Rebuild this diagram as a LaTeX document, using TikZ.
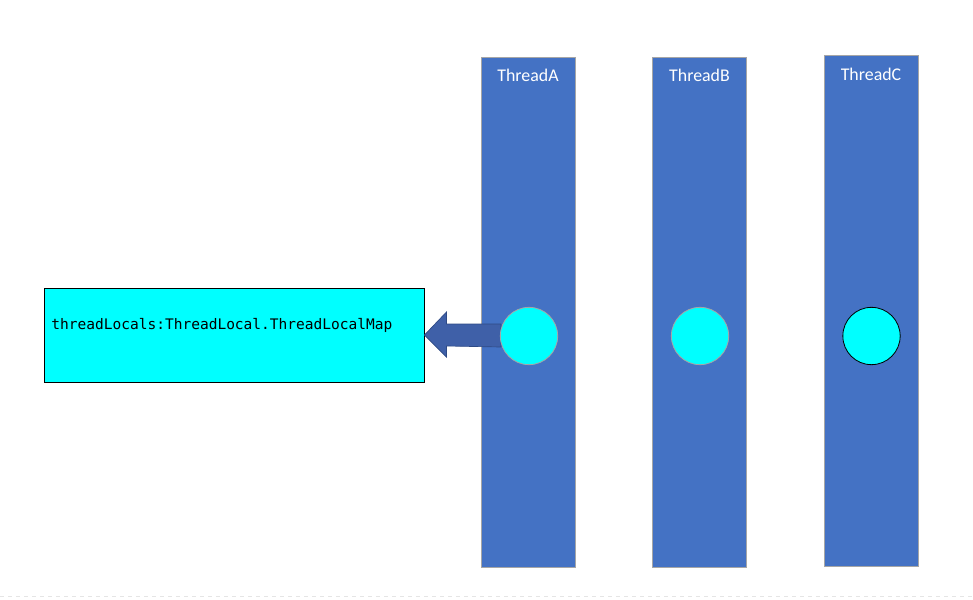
\documentclass[tikz,border=0pt]{standalone}
\usepackage{fontspec}
\setmainfont{Carlito}
\newfontfamily\monofnt{DejaVu Sans Mono}
\definecolor{barblue}{HTML}{4472C4}
\definecolor{bargray}{HTML}{A6A6A6}
\definecolor{arrowblue}{HTML}{3F60A8}
\definecolor{arrowedge}{HTML}{2E4A85}
\definecolor{cyanfill}{HTML}{00FFFF}
\begin{document}
\begin{tikzpicture}[x=0.75pt,y=-0.75pt,
  bar/.style={draw=bargray,line width=0.6pt,fill=barblue,minimum width=70.5pt,inner sep=0pt},
  barlabel/.style={text=white,font=\fontsize{13.4}{15}\selectfont,inner sep=0pt},
  dot/.style={circle,fill=cyanfill,draw=bargray,line width=0.6pt,minimum size=43pt,inner sep=0pt},
  mapbox/.style={draw=black,line width=0.7pt,fill=cyanfill,minimum width=285pt,minimum height=70.5pt,inner sep=0pt}]
\useasboundingbox (0,0) rectangle (973,599);
\draw[dashed,draw=black!10,line width=0.6pt] (0,596) -- (973,596);
% bars
\node[bar,minimum height=383pt] (ta) at (528,312.5) {};
\node[bar,minimum height=383pt] (tb) at (699.5,312.5) {};
\node[bar,minimum height=383pt] (tc) at (871,311) {};
\node[barlabel] (la) at (528,75) {ThreadA};
\node[barlabel] (lb) at (699.5,75) {ThreadB};
\node[barlabel] (lc) at (871,74) {ThreadC};
% map box
\node[mapbox] (map) at (234,335) {};
\node[anchor=west,inner sep=0pt,font=\monofnt\fontsize{10.9}{12}\selectfont] (maptext) at (51,325) {threadLocals:ThreadLocal.ThreadLocalMap};
% block arrow
\coordinate (tip) at (map.east);
\fill[arrowblue,draw=arrowedge,line width=0.5pt,line join=miter]
  (tip) -- ++(22,-23) -- ++(0,12) -- (501,324) -- (501,347) -- ([xshift=22*0.75pt,yshift=-11*0.75pt]tip) -- ++(0,11) -- cycle;
% circles
\node[dot] (ca) at (529,336) {};
\node[dot] (cb) at (700,336) {};
\node[dot,draw=black] (cc) at (871.5,336) {};
\end{tikzpicture}
\end{document}
